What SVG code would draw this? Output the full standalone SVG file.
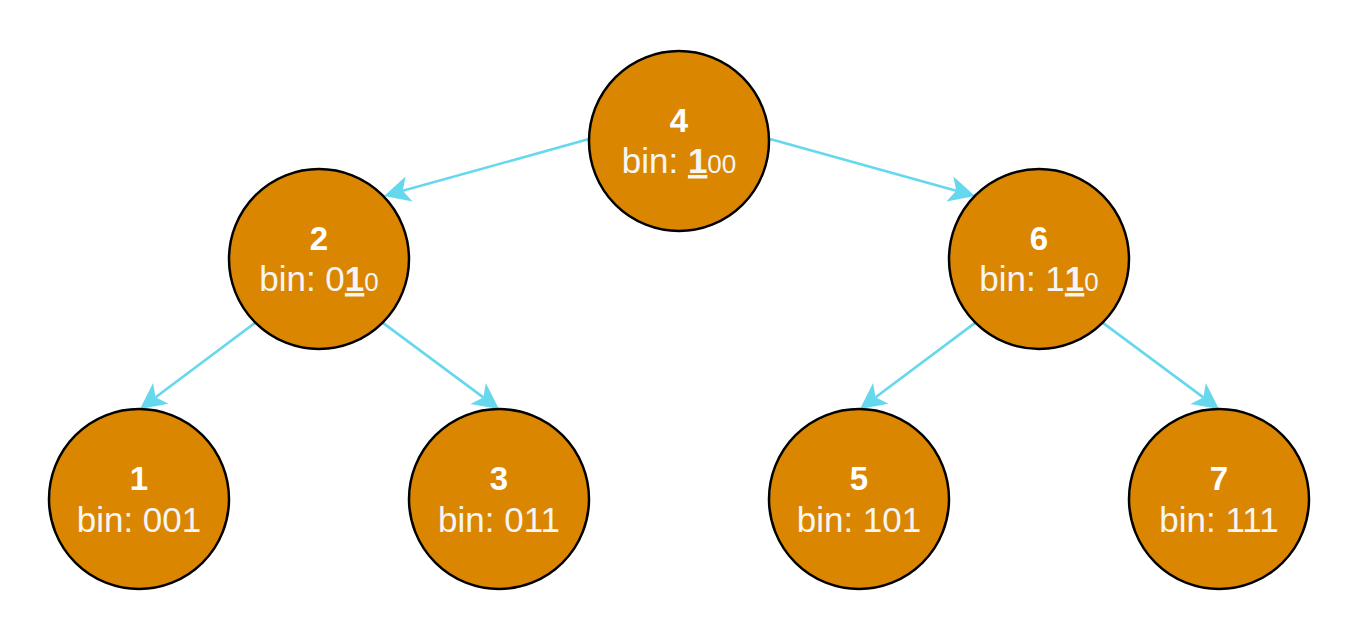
<svg xmlns="http://www.w3.org/2000/svg" width="1359" height="639" viewBox="0 0 1359 639">
<style>
.node circle{fill:#DA8600;stroke:#000;stroke-width:2.5}
.t{font-family:"Liberation Sans",Arial,sans-serif;font-weight:bold;font-size:33px;fill:#FFFFFF;text-anchor:middle}
.b{font-family:"Liberation Sans",Arial,sans-serif;font-size:35px;fill:#F5F5F5;text-anchor:middle}
.hb{font-weight:bold;text-decoration:underline}
.sm{font-size:26px}
.edge{stroke:#66D8EE;stroke-width:2.6;fill:none;marker-end:url(#arr)}
</style>
<defs>
<marker id="arr" markerUnits="userSpaceOnUse" viewBox="-8 -14 29 28" markerWidth="29" markerHeight="28" refX="0" refY="0" orient="auto" overflow="visible">
<path d="M19.5,0 L-6.5,-13 L0,0 L-6.5,13 Z" fill="#66D8EE"/>
</marker>
</defs>
<rect width="1359" height="639" fill="#FFFFFF"/>
<g id="connectors">
<line class="edge" x1="589" y1="139" x2="402.8" y2="190.8"/>
<line class="edge" x1="770" y1="139" x2="956.2" y2="190.8"/>
<line class="edge" x1="255.4" y1="322.6" x2="155.6" y2="397.3"/>
<line class="edge" x1="382.6" y1="322.6" x2="483.3" y2="397.4"/>
<line class="edge" x1="975.4" y1="322.6" x2="875.6" y2="397.3"/>
<line class="edge" x1="1102.6" y1="322.6" x2="1203.3" y2="397.4"/>
</g>
<g id="node4" class="node">
<circle cx="679" cy="141" r="90"/>
<text class="t" x="679" y="131.5">4</text>
<text class="b" x="679" y="173">bin: <tspan class="hb">1</tspan><tspan class="sm">00</tspan></text>
</g>
<g id="node2" class="node">
<circle cx="319" cy="259" r="90"/>
<text class="t" x="319" y="249.5">2</text>
<text class="b" x="319" y="291">bin: 0<tspan class="hb">1</tspan><tspan class="sm">0</tspan></text>
</g>
<g id="node6" class="node">
<circle cx="1039" cy="259" r="90"/>
<text class="t" x="1039" y="249.5">6</text>
<text class="b" x="1039" y="291">bin: 1<tspan class="hb">1</tspan><tspan class="sm">0</tspan></text>
</g>
<g id="node1" class="node">
<circle cx="139" cy="499" r="90"/>
<text class="t" x="139" y="489.5">1</text>
<text class="b" x="139" y="531.5">bin: 001</text>
</g>
<g id="node3" class="node">
<circle cx="499" cy="499" r="90"/>
<text class="t" x="499" y="489.5">3</text>
<text class="b" x="499" y="531.5">bin: 011</text>
</g>
<g id="node5" class="node">
<circle cx="859" cy="499" r="90"/>
<text class="t" x="859" y="489.5">5</text>
<text class="b" x="859" y="531.5">bin: 101</text>
</g>
<g id="node7" class="node">
<circle cx="1219" cy="499" r="90"/>
<text class="t" x="1219" y="489.5">7</text>
<text class="b" x="1219" y="531.5">bin: 111</text>
</g>
</svg>
